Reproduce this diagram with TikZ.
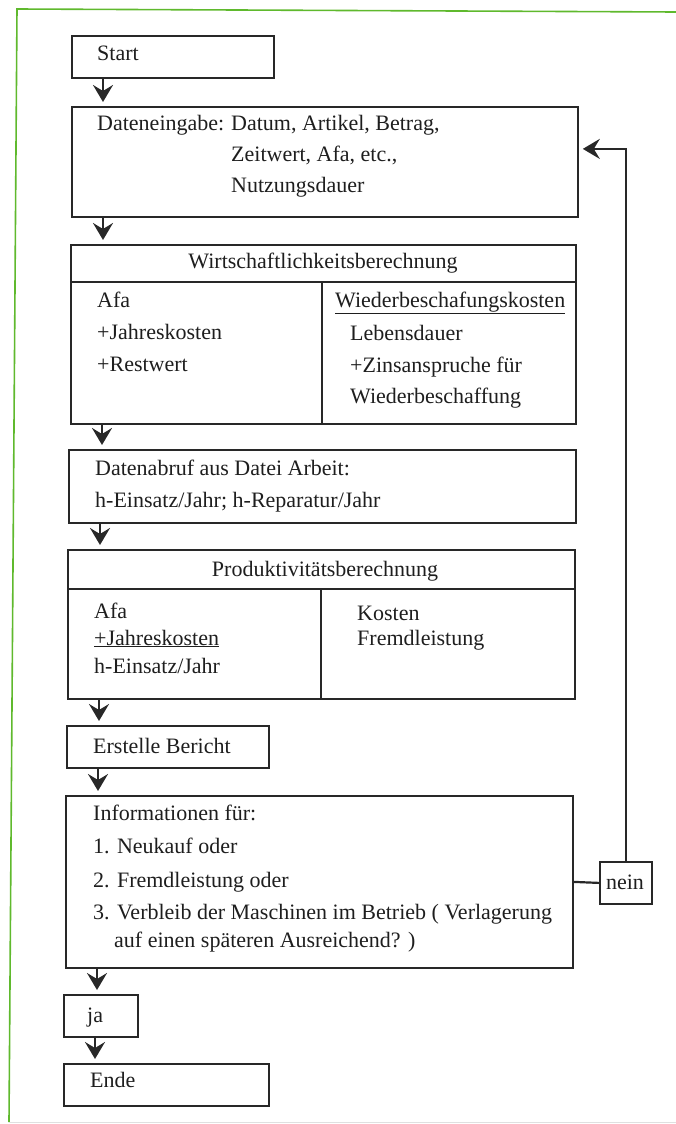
\documentclass[tikz,border=0pt]{standalone}
\usepackage{fontspec}
\setmainfont{Liberation Serif}
\usetikzlibrary{arrows.meta}
\definecolor{linec}{RGB}{40,40,40}
\definecolor{txtc}{RGB}{30,30,30}
\definecolor{pagegreen}{RGB}{95,185,45}
\tikzset{
  box/.style={draw=linec, line width=1.8pt, rectangle, inner sep=0pt, anchor=north west},
  divline/.style={draw=linec, line width=1.8pt},
  txt/.style={anchor=base west, inner sep=0pt, text=txtc, font=\fontsize{22}{26}\selectfont},
  ctxt/.style={anchor=base, inner sep=0pt, text=txtc, font=\fontsize{22}{26}\selectfont},
  arr/.style={draw=linec, line width=2.4pt, -{Stealth[length=17pt,width=20pt,inset=6pt]}, shorten >=4pt},
  conn/.style={draw=linec, line width=2.2pt}
}
\begin{document}
\begin{tikzpicture}[x=1pt,y=-1pt]
\useasboundingbox (0,0) rectangle (676,1124);
% page frame (scan border)
\draw[pagegreen, line width=1.6pt] (676,12) -- (17,9) -- (9,1122);
\draw[black!12, line width=1pt] (9,1122) -- (676,1122);

% boxes
\node[box, minimum width=202pt, minimum height=42pt] (start) at (71,35) {};
\node[box, minimum width=506pt, minimum height=110pt] (date) at (71,106) {};
\node[box, minimum width=505pt, minimum height=179pt] (wirt) at (70,244) {};
\node[box, minimum width=507pt, minimum height=73pt] (abruf) at (68,449) {};
\node[box, minimum width=507pt, minimum height=149pt] (prod) at (67,549) {};
\node[box, minimum width=202pt, minimum height=42pt] (bericht) at (66,725) {};
\node[box, minimum width=507pt, minimum height=172pt] (info) at (65,795) {};
\node[box, minimum width=52pt, minimum height=42pt] (nein) at (599,861) {};
\node[box, minimum width=74pt, minimum height=42pt] (ja) at (63,994) {};
\node[box, minimum width=205pt, minimum height=42pt] (ende) at (63,1063) {};

% dividers
\draw[divline] ([yshift=-38pt]wirt.north west) -- ([yshift=-38pt]wirt.north east);
\draw[divline] ([xshift=252pt,yshift=-38pt]wirt.north west) -- ([xshift=252pt]wirt.south west);
\draw[divline] ([yshift=-40pt]prod.north west) -- ([yshift=-40pt]prod.north east);
\draw[divline] ([xshift=254pt,yshift=-40pt]prod.north west) -- ([xshift=254pt]prod.south west);

% texts
\node[txt] (tstart) at (97,60) {Start};
\node[txt] (tdate) at (97,130) {Dateneingabe:};
\node[txt] (tdate1) at (231,130) {Datum, Artikel, Betrag,};
\node[txt] (tdate2) at (231,161) {Zeitwert, Afa, etc.,};
\node[txt] (tdate3) at (231,192) {Nutzungsdauer};

\node[ctxt] (twirt) at (323,268) {Wirtschaftlichkeitsberechnung};
\node[txt] (tw1) at (97,307) {Afa};
\node[txt] (tw2) at (97,339) {+Jahreskosten};
\node[txt] (tw3) at (97,371) {+Restwert};
\node[txt] (tw4) at (335,307) {\underline{Wiederbeschafungskosten}};
\node[txt] (tw5) at (350,340) {Lebensdauer};
\node[txt] (tw6) at (350,372) {+Zinsanspruche für};
\node[txt] (tw7) at (350,403) {Wiederbeschaffung};

\node[txt] (ta1) at (95,475) {Datenabruf aus Datei Arbeit:};
\node[txt] (ta2) at (95,507) {h-Einsatz/Jahr; h-Reparatur/Jahr};

\node[ctxt] (tprod) at (325,576) {Produktivitätsberechnung};
\node[txt] (tp1) at (94,618) {Afa};
\node[txt] (tp2) at (94,645) {\underline{+Jahreskosten}};
\node[txt] (tp3) at (94,673) {h-Einsatz/Jahr};
\node[txt] (tp4) at (357,620) {Kosten};
\node[txt] (tp5) at (357,645) {Fremdleistung};

\node[txt] (tb) at (93,753) {Erstelle Bericht};

\node[txt] (ti1) at (93,820) {Informationen für:};
\node[txt] (ti2) at (93,853) {1. Neukauf oder};
\node[txt] (ti3) at (93,887) {2. Fremdleistung oder};
\node[txt] (ti4) at (93,919) {3. Verbleib der Maschinen im Betrieb ( Verlagerung};
\node[txt] (ti5) at (114,947) {auf einen späteren Ausreichend? )};

\node[ctxt] (tnein) at (625,889) {nein};
\node[txt] (tja) at (87,1022) {ja};
\node[txt] (tende) at (90,1087) {Ende};

% connectors
\foreach \a/\b in {start/date, date/wirt, wirt/abruf, abruf/prod, prod/bericht, bericht/info, info/ja, ja/ende}{
  \draw[arr] ([xshift=32pt]\a.south west) -- ([xshift=32pt]\a.south west |- \b.north);
}
\draw[conn] (info.east) -- (nein.west);
\draw[arr] (nein.north) |- ([yshift=13pt]date.east);
\end{tikzpicture}
\end{document}
